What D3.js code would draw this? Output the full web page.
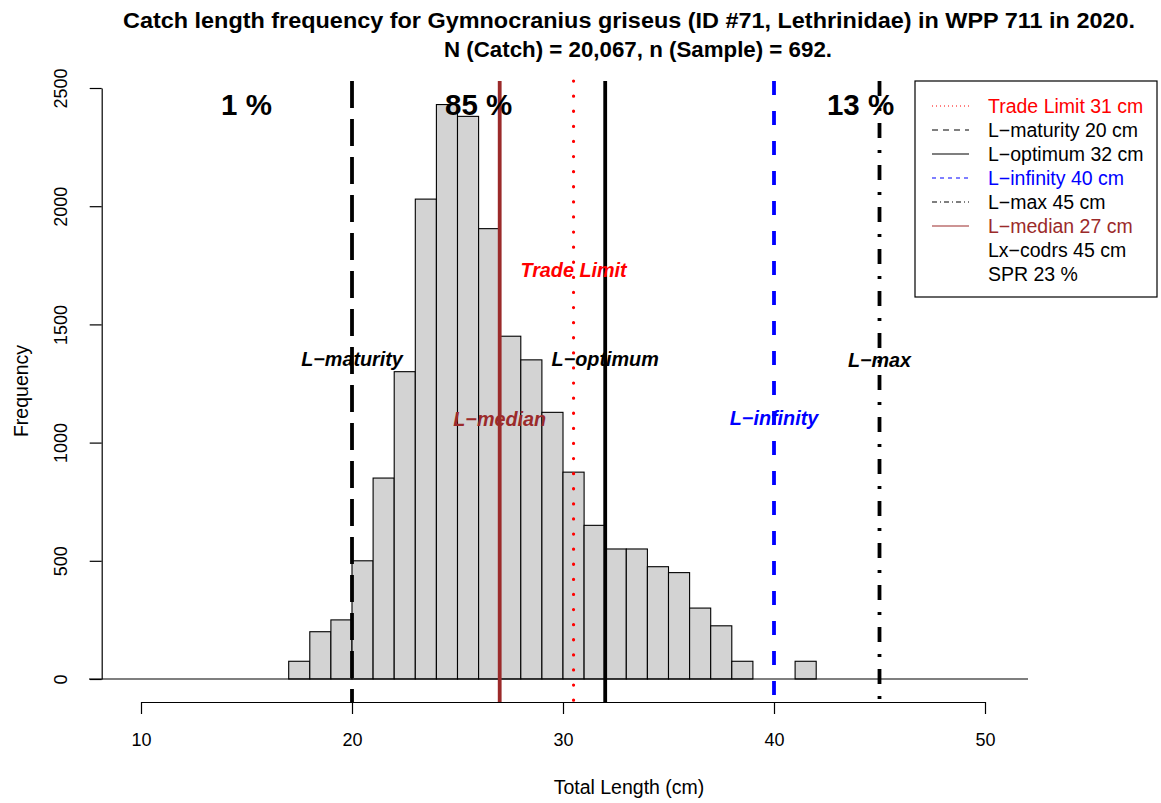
<!DOCTYPE html>
<html><head><meta charset="utf-8">
<script src="https://cdn.jsdelivr.net/npm/d3@7"></script>
<style>body{margin:0;background:#fff}svg{display:block}text{font-family:"Liberation Sans",Arial,Helvetica,sans-serif}</style>
</head><body><div id="chart"></div>
<script>
const binStarts = [17,18,19,20,21,22,23,24,25,26,27,28,29,30,31,32,33,34,35,36,37,38,39,40,41];
const counts    = [75,200,250,500,850,1300,2030,2430,2380,1905,1450,1350,1128,875,650,550,550,475,450,300,225,75,0,0,75];
const xTicks = [10,20,30,40,50];
const yTicks = [0,500,1000,1500,2000,2500];
const refNames  = ["Trade Limit","L\u2212maturity","L\u2212optimum","L\u2212infinity","L\u2212max","L\u2212median"];
const refValues = [30.5,20,32,40,45,27];
const refColors = ["#ff0000","#000000","#000000","#0000ff","#000000","#9b2a2a"];
const refDash   = ["0.1,15","27,11","none","14,16","15,12,3,12","none"];
const refLabelY = [1730,1355,1355,1105,1350,1100];
const legendLabels = ["Trade Limit 31 cm","L\u2212maturity 20 cm","L\u2212optimum 32 cm","L\u2212infinity 40 cm","L\u2212max 45 cm","L\u2212median 27 cm","Lx\u2212codrs 45 cm","SPR 23 %"];
const legendDash = ["1,3","6,5","none","4,4","5,3,1,3","none",null,null];
const legendColors = ["#ff0000","#000000","#000000","#0000ff","#000000","#9b2a2a","#000000","#000000"];
const pctLabels = ["1 %","85 %","13 %"];
const pctX = [15,26,44.1];
const pctY = 2430;

const W=1161,H=803;
const svg=d3.select("#chart").append("svg").attr("width",W).attr("height",H);
svg.append("rect").attr("width",W).attr("height",H).attr("fill","#fff");
const x=d3.scaleLinear().domain([10,50]).range([141,985]);
const y=d3.scaleLinear().domain([0,2500]).range([679,88]);
const plotTop=81, plotBottom=702;

// title
svg.append("text").attr("x",629).attr("y",28).attr("text-anchor","middle").attr("font-weight","bold").attr("font-size",22)
  .attr("textLength",1012).attr("lengthAdjust","spacingAndGlyphs")
  .text("Catch length frequency for Gymnocranius griseus (ID #71, Lethrinidae) in WPP 711 in 2020.");
svg.append("text").attr("x",638).attr("y",57).attr("text-anchor","middle").attr("font-weight","bold").attr("font-size",22)
  .attr("textLength",388).attr("lengthAdjust","spacingAndGlyphs")
  .text("N (Catch) = 20,067, n (Sample) = 692.");

// bars
svg.append("g").selectAll("rect").data(binStarts.map((b,i)=>({b,c:counts[i]})).filter(d=>d.c>0)).join("rect")
  .attr("x",d=>x(d.b)).attr("width",d=>x(d.b+1)-x(d.b))
  .attr("y",d=>y(d.c)).attr("height",d=>y(0)-y(d.c))
  .attr("fill","#d3d3d3").attr("stroke","#000").attr("stroke-width",1.1);

// zero line
svg.append("line").attr("x1",89).attr("x2",1028).attr("y1",y(0)).attr("y2",y(0)).attr("stroke","#000").attr("stroke-width",1.2);

// reference lines
refValues.forEach((v,i)=>{
  const l=svg.append("line").attr("x1",x(v)).attr("x2",x(v)).attr("y1",plotTop).attr("y2",plotBottom)
    .attr("stroke",refColors[i]).attr("stroke-width",i===0?3.2:3.8);
  if(refDash[i]!=="none") l.attr("stroke-dasharray",refDash[i]);
  if(i===0) l.attr("stroke-linecap","round");
});
// ref labels
refValues.forEach((v,i)=>{
  svg.append("text").attr("x",x(v)).attr("y",y(refLabelY[i])).attr("dy","0.35em").attr("text-anchor","middle")
    .attr("font-weight","bold").attr("font-style","italic").attr("font-size",19.8).attr("fill",refColors[i]).text(refNames[i]);
});
// pct labels
pctLabels.forEach((t,i)=>{
  svg.append("text").attr("x",x(pctX[i])).attr("y",y(pctY)).attr("dy","0.35em").attr("text-anchor","middle")
    .attr("font-weight","bold").attr("font-size",29.5).text(t);
});

// x axis
const xa=svg.append("g").attr("transform",`translate(0,${plotBottom})`)
  .call(d3.axisBottom(x).tickValues(xTicks).tickSize(12).tickSizeOuter(0));
xa.select(".domain").attr("stroke-width",1.2);
xa.selectAll("line").attr("stroke-width",1.2);
xa.selectAll(".tick text").attr("font-size",18).attr("font-family","Liberation Sans, Arial").attr("y",38).attr("dy","0.35em");
// y axis
const ya=svg.append("g").attr("transform",`translate(101.7,0)`)
  .call(d3.axisLeft(y).tickValues(yTicks).tickSize(12).tickSizeOuter(0).tickFormat(d3.format("d")));
ya.select(".domain").attr("stroke-width",1.2);
ya.selectAll("line").attr("stroke-width",1.2);
ya.selectAll(".tick text").attr("font-size",18).attr("font-family","Liberation Sans, Arial")
  .attr("text-anchor","middle").attr("x",-41).attr("y",0).attr("dy","0.35em").attr("transform","rotate(-90,-41,0)");

svg.append("text").attr("x",629).attr("y",794).attr("text-anchor","middle").attr("font-size",19.5).text("Total Length (cm)");
svg.append("text").attr("transform","translate(28,391) rotate(-90)").attr("text-anchor","middle").attr("font-size",19.5).text("Frequency");

// legend
const lg=svg.append("g");
lg.append("rect").attr("x",915).attr("y",81).attr("width",242).attr("height",216).attr("fill","#fff").attr("stroke","#000").attr("stroke-width",1.2);
legendLabels.forEach((t,i)=>{
  const yy=106+i*24;
  if(legendDash[i]!==null){
    const l=lg.append("line").attr("x1",932).attr("x2",969).attr("y1",yy).attr("y2",yy).attr("stroke",legendColors[i]).attr("stroke-width",1.2);
    if(legendDash[i]!=="none") l.attr("stroke-dasharray",legendDash[i]);
  }
  lg.append("text").attr("x",988).attr("y",yy).attr("dy","0.35em").attr("font-size",19.5).attr("fill",legendColors[i]).text(t);
});
</script></body></html>
